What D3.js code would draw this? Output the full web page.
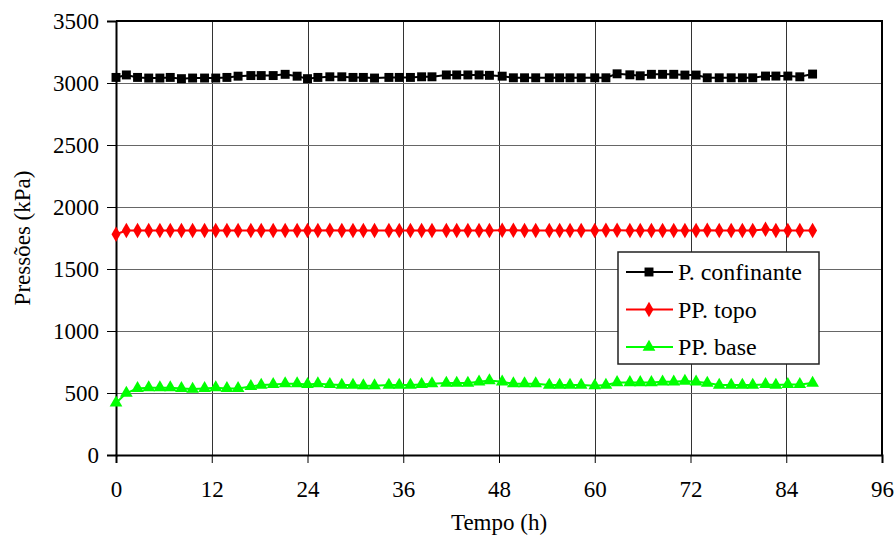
<!DOCTYPE html>
<html>
<head>
<meta charset="utf-8">
<script src="https://cdn.jsdelivr.net/npm/d3@7"></script>
<style>
  body { margin: 0; background: #fff; }
  svg text { font-family: 'Liberation Serif', 'Times New Roman', Times, 'DejaVu Serif', serif; fill: #000; }
</style>
</head>
<body>
<div id="chart"></div>
<script>
// Time of each reading (h)
const tempo = [0, 1.3, 2.7, 4.1, 5.5, 6.8, 8.2, 9.6, 11.1, 12.5, 13.9, 15.3, 16.9, 18.2, 19.7, 21.2,
  22.7, 24.0, 25.3, 26.8, 28.3, 29.7, 31.0, 32.4, 34.2, 35.5, 36.9, 38.3, 39.6, 41.4, 42.7, 44.1,
  45.5, 46.8, 48.4, 49.8, 51.2, 52.6, 54.3, 55.6, 56.9, 58.3, 60.0, 61.4, 62.8, 64.4, 65.7, 67.1,
  68.5, 69.9, 71.3, 72.7, 74.1, 75.6, 77.1, 78.5, 79.8, 81.4, 82.7, 84.2, 85.7, 87.3];

// Pressures (kPa)
const pConfinante = [3045, 3065, 3045, 3040, 3040, 3045, 3035, 3040, 3040, 3040, 3045, 3055, 3060, 3060, 3060, 3070,
  3055, 3035, 3045, 3050, 3050, 3045, 3045, 3040, 3045, 3045, 3045, 3050, 3050, 3065, 3065, 3065,
  3065, 3062, 3055, 3042, 3042, 3042, 3042, 3042, 3042, 3042, 3042, 3042, 3074, 3066, 3058, 3070,
  3070, 3070, 3064, 3064, 3042, 3042, 3042, 3042, 3042, 3056, 3056, 3056, 3050, 3072];

const ppTopo = [1780, 1810, 1810, 1810, 1810, 1810, 1810, 1810, 1810, 1810, 1810, 1810, 1810, 1810, 1810, 1810,
  1810, 1810, 1810, 1812, 1810, 1810, 1810, 1810, 1810, 1810, 1810, 1810, 1810, 1810, 1810, 1810,
  1810, 1810, 1812, 1812, 1810, 1810, 1810, 1810, 1810, 1810, 1810, 1812, 1812, 1810, 1810, 1810,
  1810, 1810, 1810, 1810, 1812, 1810, 1810, 1810, 1810, 1820, 1810, 1810, 1810, 1810];

const ppBase = [420, 500, 537, 543, 543, 543, 537, 532, 537, 543, 537, 537, 553, 564, 569, 575,
  575, 569, 575, 569, 564, 564, 559, 559, 564, 564, 564, 569, 575, 580, 580, 580,
  590, 600, 590, 575, 575, 575, 564, 564, 564, 564, 559, 564, 585, 585, 585, 585,
  590, 590, 596, 590, 580, 564, 564, 564, 564, 569, 564, 569, 569, 580];

const xTicks = [0, 12, 24, 36, 48, 60, 72, 84, 96];
const yTicks = [0, 500, 1000, 1500, 2000, 2500, 3000, 3500];

const series = [
  { name: "P. confinante", values: pConfinante, color: "#000000", symbol: d3.symbolSquare, size: 80 },
  { name: "PP. topo", values: ppTopo, color: "#ff0000", symbol: d3.symbolDiamond, size: 70 },
  { name: "PP. base", values: ppBase, color: "#00ff00", symbol: d3.symbolTriangle, size: 70 }
];

const serif = "'Liberation Serif', 'Times New Roman', Times, 'DejaVu Serif', serif";
const width = 896, height = 537;
const plot = { left: 116, right: 882, top: 21, bottom: 455 };

const svg = d3.select("#chart").append("svg")
  .attr("width", width)
  .attr("height", height)
  .attr("font-family", serif);

const x = d3.scaleLinear().domain([0, 96]).range([plot.left, plot.right]);
const y = d3.scaleLinear().domain([0, 3500]).range([plot.bottom, plot.top]);

// gridlines
svg.append("g")
  .selectAll("line")
  .data(xTicks.slice(1, -1))
  .join("line")
  .attr("x1", d => Math.round(x(d)) + 0.5)
  .attr("x2", d => Math.round(x(d)) + 0.5)
  .attr("y1", plot.top)
  .attr("y2", plot.bottom)
  .attr("stroke", "#333")
  .attr("stroke-width", 1);

svg.append("g")
  .selectAll("line")
  .data(yTicks.slice(1, -1))
  .join("line")
  .attr("x1", plot.left)
  .attr("x2", plot.right)
  .attr("y1", d => Math.round(y(d)) + 0.5)
  .attr("y2", d => Math.round(y(d)) + 0.5)
  .attr("stroke", "#666")
  .attr("stroke-width", 1);

// frame top and right
svg.append("path")
  .attr("d", `M${plot.left},${plot.top}H${plot.right}V${plot.bottom}`)
  .attr("fill", "none")
  .attr("stroke", "#000")
  .attr("stroke-width", 2);

// axes
const xAxis = svg.append("g")
  .attr("transform", `translate(0,${plot.bottom})`)
  .call(d3.axisBottom(x).tickValues(xTicks).tickSize(8).tickPadding(18).tickFormat(d3.format("d")));
const yAxis = svg.append("g")
  .attr("transform", `translate(${plot.left},0)`)
  .call(d3.axisLeft(y).tickValues(yTicks).tickSize(9).tickPadding(8).tickFormat(d3.format("d")));

[xAxis, yAxis].forEach(g => {
  g.attr("font-family", serif).attr("font-size", 23);
  g.select(".domain").attr("stroke", "#000").attr("stroke-width", 2);
  g.selectAll(".tick line").attr("stroke", "#000").attr("stroke-width", 1);
  g.selectAll(".tick text").attr("fill", "#000");
});

// lines and markers
const line = d3.line()
  .x((d, i) => x(tempo[i]))
  .y(d => y(d));

series.forEach(s => {
  svg.append("path")
    .datum(s.values)
    .attr("fill", "none")
    .attr("stroke", s.color)
    .attr("stroke-width", 2)
    .attr("d", line);

  svg.append("g")
    .selectAll("path")
    .data(s.values)
    .join("path")
    .attr("transform", (d, i) => `translate(${x(tempo[i])},${y(d)})`)
    .attr("d", d3.symbol().type(s.symbol).size(s.size))
    .attr("fill", s.color);
});

// axis titles
svg.append("text")
  .attr("x", (plot.left + plot.right) / 2)
  .attr("y", 530)
  .attr("text-anchor", "middle")
  .attr("font-size", 23)
  .text("Tempo (h)");

svg.append("text")
  .attr("transform", `translate(30,${(plot.top + plot.bottom) / 2}) rotate(-90)`)
  .attr("text-anchor", "middle")
  .attr("font-size", 23)
  .text("Pressões (kPa)");

// legend
const legend = svg.append("g").attr("transform", "translate(618,252)");
legend.append("rect")
  .attr("width", 201)
  .attr("height", 112)
  .attr("fill", "#fff")
  .attr("stroke", "#222")
  .attr("stroke-width", 1.5);

series.forEach((s, i) => {
  const ly = 20 + i * 37.5;
  legend.append("line")
    .attr("x1", 8).attr("x2", 55)
    .attr("y1", ly).attr("y2", ly)
    .attr("stroke", s.color)
    .attr("stroke-width", 2);
  legend.append("path")
    .attr("transform", `translate(31,${ly})`)
    .attr("d", d3.symbol().type(s.symbol).size(s.size))
    .attr("fill", s.color);
  legend.append("text")
    .attr("x", 60)
    .attr("y", ly)
    .attr("dy", "0.35em")
    .attr("font-size", 24)
    .text(s.name);
});
</script>
</body>
</html>
